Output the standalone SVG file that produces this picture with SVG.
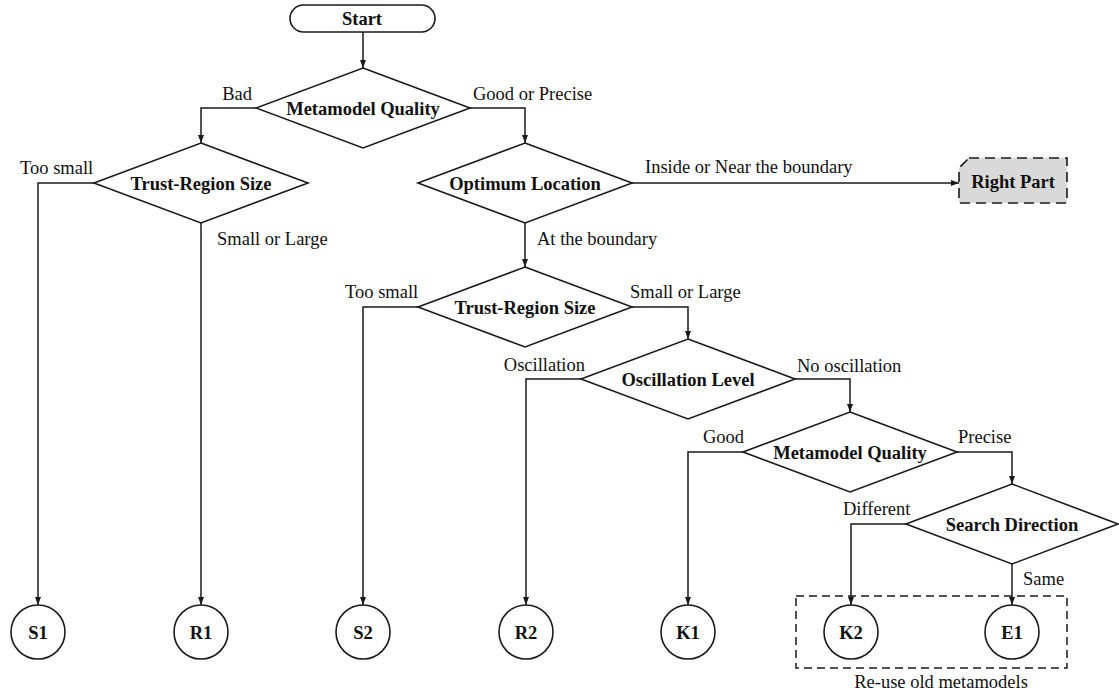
<svg xmlns="http://www.w3.org/2000/svg" width="1119" height="697" viewBox="0 0 1119 697">
<style>
.shape{fill:#fff;stroke:#1a1a1a;stroke-width:1.6}
.conn{fill:none;stroke:#1a1a1a;stroke-width:1.5}
.nt{font-family:"Liberation Serif","Times New Roman",serif;font-size:18.5px;font-weight:bold;fill:#111;text-anchor:middle}
.lb{font-family:"Liberation Serif","Times New Roman",serif;font-size:18.5px;fill:#111}
</style>
<defs>
<marker id="arr" markerUnits="userSpaceOnUse" markerWidth="9" markerHeight="7" refX="8" refY="3" orient="auto">
<path d="M0,0 L8,3 L0,6 Z" fill="#1a1a1a"/>
</marker>
</defs>
<rect width="1119" height="697" fill="#fff"/>
<g id="connectors">
<path class="conn" marker-end="url(#arr)" d="M363,32 V68"/>
<path class="conn" marker-end="url(#arr)" d="M256,108 H201 V143"/>
<path class="conn" marker-end="url(#arr)" d="M470,108 H525 V143"/>
<path class="conn" marker-end="url(#arr)" d="M94,183 H38 V605"/>
<path class="conn" marker-end="url(#arr)" d="M201,223 V605"/>
<path class="conn" marker-end="url(#arr)" d="M632,183 H959"/>
<path class="conn" marker-end="url(#arr)" d="M525,223 V267"/>
<path class="conn" marker-end="url(#arr)" d="M418,307 H363 V605"/>
<path class="conn" marker-end="url(#arr)" d="M632,307 H688 V339"/>
<path class="conn" marker-end="url(#arr)" d="M581,379 H526 V605"/>
<path class="conn" marker-end="url(#arr)" d="M795,379 H850 V412"/>
<path class="conn" marker-end="url(#arr)" d="M743,452 H688 V605"/>
<path class="conn" marker-end="url(#arr)" d="M957,452 H1012 V484"/>
<path class="conn" marker-end="url(#arr)" d="M906,524 H851 V605"/>
<path class="conn" marker-end="url(#arr)" d="M1012,564 V605"/>
<text class="lb" x="252" y="100" text-anchor="end">Bad</text>
<text class="lb" x="473" y="100">Good or Precise</text>
<text class="lb" x="20" y="174">Too small</text>
<text class="lb" x="217" y="245">Small or Large</text>
<text class="lb" x="645" y="173">Inside or Near the boundary</text>
<text class="lb" x="537" y="245">At the boundary</text>
<text class="lb" x="345" y="298">Too small</text>
<text class="lb" x="630" y="298">Small or Large</text>
<text class="lb" x="585" y="371" text-anchor="end">Oscillation</text>
<text class="lb" x="797" y="372">No oscillation</text>
<text class="lb" x="703" y="443">Good</text>
<text class="lb" x="958" y="443">Precise</text>
<text class="lb" x="843" y="515">Different</text>
<text class="lb" x="1023" y="585">Same</text>
</g>
<g id="start">
<rect class="shape" x="290" y="5" width="145" height="27" rx="13.5"/>
<text class="nt" x="362" y="25">Start</text>
</g>
<g id="mq1">
<polygon class="shape" points="363,68 470,108 363,148 256,108"/>
<text class="nt" x="363" y="115">Metamodel Quality</text>
</g>
<g id="trs1">
<polygon class="shape" points="201,143 308,183 201,223 94,183"/>
<text class="nt" x="201" y="190">Trust-Region Size</text>
</g>
<g id="ol">
<polygon class="shape" points="525,143 632,183 525,223 418,183"/>
<text class="nt" x="525" y="190">Optimum Location</text>
</g>
<g id="rightpart">
<path d="M969,158 H1067 V203 H959 V168 Z" fill="#d9d9d9" stroke="#1a1a1a" stroke-width="1.6" stroke-dasharray="10,6"/>
<text class="nt" x="1013" y="188">Right Part</text>
</g>
<g id="trs2">
<polygon class="shape" points="525,267 632,307 525,347 418,307"/>
<text class="nt" x="525" y="314">Trust-Region Size</text>
</g>
<g id="osc">
<polygon class="shape" points="688,339 795,379 688,419 581,379"/>
<text class="nt" x="688" y="386">Oscillation Level</text>
</g>
<g id="mq2">
<polygon class="shape" points="850,412 957,452 850,492 743,452"/>
<text class="nt" x="850" y="459">Metamodel Quality</text>
</g>
<g id="sd">
<polygon class="shape" points="1012,484 1118,524 1012,564 906,524"/>
<text class="nt" x="1012" y="531">Search Direction</text>
</g>
<g id="reuse">
<rect x="796" y="596" width="271" height="72" fill="none" stroke="#1a1a1a" stroke-width="1.5" stroke-dasharray="8,5"/>
<text class="lb" x="941" y="688" text-anchor="middle">Re-use old metamodels</text>
</g>
<g id="s1"><circle class="shape" cx="38" cy="632" r="27"/><text class="nt" x="38" y="639">S1</text></g>
<g id="r1"><circle class="shape" cx="201" cy="632" r="27"/><text class="nt" x="201" y="639">R1</text></g>
<g id="s2"><circle class="shape" cx="363" cy="632" r="27"/><text class="nt" x="363" y="639">S2</text></g>
<g id="r2"><circle class="shape" cx="526" cy="632" r="27"/><text class="nt" x="526" y="639">R2</text></g>
<g id="k1"><circle class="shape" cx="688" cy="632" r="27"/><text class="nt" x="688" y="639">K1</text></g>
<g id="k2"><circle class="shape" cx="851" cy="632" r="27"/><text class="nt" x="851" y="639">K2</text></g>
<g id="e1"><circle class="shape" cx="1012" cy="632" r="27"/><text class="nt" x="1012" y="639">E1</text></g>
</svg>
